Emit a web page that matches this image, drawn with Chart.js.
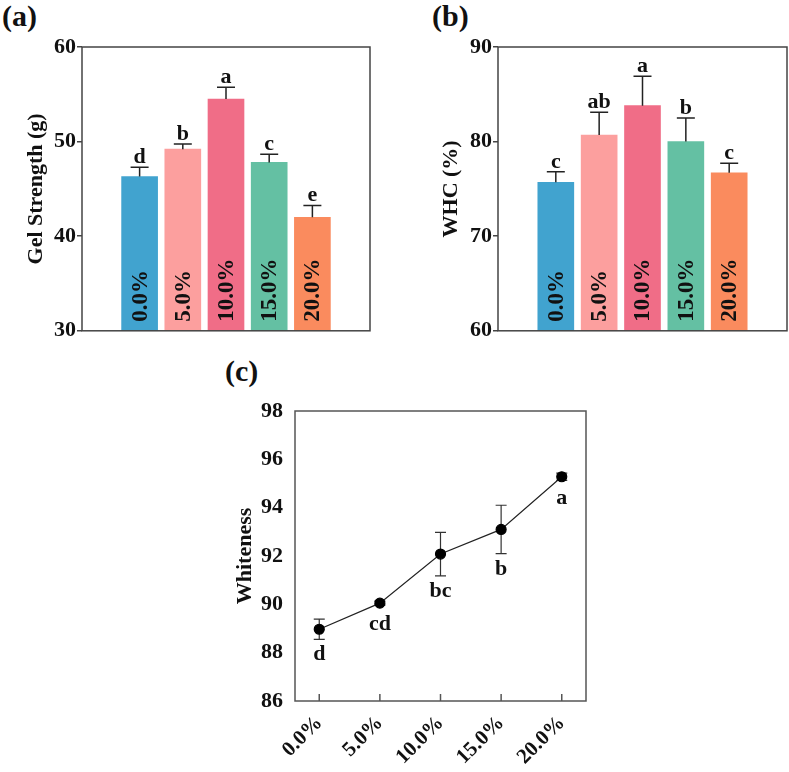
<!DOCTYPE html>
<html>
<head>
<meta charset="utf-8">
<script src="https://cdn.jsdelivr.net/npm/chart.js@4/dist/chart.umd.min.js"></script>
<style>
  body { margin: 0; background: #fff; }
  #page { position: relative; width: 789px; height: 772px; overflow: hidden; background: #fff; }
  canvas { position: absolute; }
  .tag { position: absolute; font: bold 30px "Liberation Serif", serif; line-height: 30px; color: #111; }
</style>
</head>
<body>
<div id="page">
  <div class="tag" style="left:2px;top:1px">(a)</div>
  <div class="tag" style="left:432px;top:1px">(b)</div>
  <div class="tag" style="left:225px;top:356px">(c)</div>
  <canvas id="gel" width="390" height="345" style="left:0;top:0"></canvas>
  <canvas id="whc" width="394" height="345" style="left:395px;top:0"></canvas>
  <canvas id="white" width="400" height="427" style="left:200px;top:345px"></canvas>
</div>
<script>
// data
const concentrations = ["0.0%", "5.0%", "10.0%", "15.0%", "20.0%"];

const gelStrength = [46.3, 49.2, 54.5, 47.8, 42.0];
const gelStrengthErr = [1.0, 0.55, 1.25, 0.85, 1.25];
const gelLetters = ["d", "b", "a", "c", "e"];
const gelTicks = [30, 40, 50, 60];

const whc = [75.7, 80.7, 83.8, 80.0, 76.7];
const whcErr = [1.1, 2.4, 3.1, 2.5, 1.0];
const whcLetters = ["c", "ab", "a", "b", "c"];
const whcTicks = [60, 70, 80, 90];

const whiteness = [88.97, 90.05, 92.08, 93.1, 95.28];
const whitenessErr = [0.42, 0.08, 0.9, 1.0, 0.15];
const whitenessLetters = ["d", "cd", "bc", "b", "a"];
const whitenessTicks = [86, 88, 90, 92, 94, 96, 98];

const barColors = ["#41a3cf", "#fc9f9e", "#f06d87", "#64c0a3", "#fa8b5e"];
const FONT = "Liberation Serif";
const bold = size => ({ family: FONT, size: size, weight: "bold" });

function barExtras(errs, letters) {
  return {
    id: "barExtras",
    afterDatasetsDraw(chart) {
      const ctx = chart.ctx, ys = chart.scales.y, a = chart.chartArea;
      const vals = chart.data.datasets[0].data;
      chart.getDatasetMeta(0).data.forEach((bar, i) => {
        const top = ys.getPixelForValue(vals[i].y + errs[i]);
        ctx.save();
        ctx.strokeStyle = "#222";
        ctx.lineWidth = 1.5;
        ctx.beginPath();
        ctx.moveTo(bar.x, bar.y);
        ctx.lineTo(bar.x, top);
        ctx.moveTo(bar.x - 9, top);
        ctx.lineTo(bar.x + 9, top);
        ctx.stroke();
        ctx.fillStyle = "#111";
        ctx.font = "bold 22px '" + FONT + "'";
        ctx.textAlign = "center";
        ctx.textBaseline = "alphabetic";
        ctx.fillText(letters[i], bar.x, top - 4);
        // concentration written up the bar
        ctx.font = "bold 23px '" + FONT + "'";
        ctx.translate(bar.x, a.bottom - 9);
        ctx.rotate(-Math.PI / 2);
        ctx.textAlign = "left";
        ctx.textBaseline = "middle";
        ctx.fillText(concentrations[i], 0, 1);
        ctx.restore();
      });
      ctx.save();
      ctx.strokeStyle = "#444";
      ctx.lineWidth = 1.5;
      ctx.strokeRect(a.left, a.top, a.right - a.left, a.bottom - a.top);
      ctx.restore();
    }
  };
}

function barChart(id, values, errs, letters, ticks, title, axisWidth, titlePad, padRight) {
  new Chart(document.getElementById(id), {
    type: "bar",
    data: {
      datasets: [{
        data: values.map((v, i) => ({ x: i, y: v })),
        backgroundColor: barColors,
        barThickness: 36
      }]
    },
    options: {
      responsive: false,
      animation: false,
      layout: { padding: { top: 47, right: padRight, bottom: 9, left: 0 } },
      plugins: { legend: { display: false }, tooltip: { enabled: false } },
      scales: {
        x: { type: "linear", display: false, min: -0.667, max: 4.667 },
        y: {
          min: ticks[0],
          max: ticks[ticks.length - 1],
          afterBuildTicks: s => { s.ticks = ticks.map(v => ({ value: v })); },
          afterFit: s => { s.width = axisWidth; },
          ticks: { font: bold(22), color: "#111", padding: 1 },
          grid: { drawOnChartArea: false, tickLength: 5, color: "#444", lineWidth: 1.5 },
          border: { display: false },
          title: { display: true, text: title, font: bold(22), color: "#111", padding: { top: titlePad, bottom: 0 } }
        }
      }
    },
    plugins: [barExtras(errs, letters)]
  });
}

barChart("gel", gelStrength, gelStrengthErr, gelLetters, gelTicks, "Gel Strength (g)", 82, 23, 20);
barChart("whc", whc, whcErr, whcLetters, whcTicks, "WHC (%)", 103, 43, 2);

// (c) whiteness line chart
const lineExtras = {
  id: "lineExtras",
  beforeDatasetsDraw(chart) {
    const ctx = chart.ctx, xs = chart.scales.x, ys = chart.scales.y;
    ctx.save();
    ctx.strokeStyle = "#333";
    ctx.lineWidth = 1.2;
    whiteness.forEach((v, i) => {
      const x = xs.getPixelForValue(i);
      const hi = ys.getPixelForValue(v + whitenessErr[i]);
      const lo = ys.getPixelForValue(v - whitenessErr[i]);
      ctx.beginPath();
      ctx.moveTo(x, hi); ctx.lineTo(x, lo);
      ctx.moveTo(x - 5.5, hi); ctx.lineTo(x + 5.5, hi);
      ctx.moveTo(x - 5.5, lo); ctx.lineTo(x + 5.5, lo);
      ctx.stroke();
    });
    ctx.restore();
  },
  afterDatasetsDraw(chart) {
    const ctx = chart.ctx, xs = chart.scales.x, ys = chart.scales.y, a = chart.chartArea;
    ctx.save();
    ctx.fillStyle = "#111";
    ctx.font = "bold 22px '" + FONT + "'";
    ctx.textAlign = "center";
    ctx.textBaseline = "alphabetic";
    whiteness.forEach((v, i) => {
      const x = xs.getPixelForValue(i);
      const lo = Math.max(ys.getPixelForValue(v - whitenessErr[i]), ys.getPixelForValue(v) + 6);
      ctx.fillText(whitenessLetters[i], x, lo + 21);
    });
    // inward tick marks on the x axis
    ctx.strokeStyle = "#555";
    ctx.lineWidth = 1.5;
    concentrations.forEach((_, i) => {
      const x = xs.getPixelForValue(i);
      ctx.beginPath();
      ctx.moveTo(x, a.bottom);
      ctx.lineTo(x, a.bottom - 7);
      ctx.stroke();
    });
    ctx.strokeRect(a.left, a.top, a.right - a.left, a.bottom - a.top);
    ctx.restore();
  }
};

new Chart(document.getElementById("white"), {
  type: "line",
  data: {
    datasets: [{
      data: whiteness.map((v, i) => ({ x: i, y: v })),
      borderColor: "#222",
      borderWidth: 1.2,
      pointRadius: 5,
      pointBackgroundColor: "#000",
      pointBorderColor: "#000",
      tension: 0
    }]
  },
  options: {
    responsive: false,
    animation: false,
    layout: { padding: { top: 66, right: 14, bottom: 0, left: 0 } },
    plugins: { legend: { display: false }, tooltip: { enabled: false } },
    scales: {
      x: {
        type: "linear",
        min: -0.4,
        max: 4.4,
        afterBuildTicks: s => { s.ticks = concentrations.map((_, i) => ({ value: i })); },
        afterFit: s => { s.height = 71; },
        ticks: {
          callback: v => concentrations[v],
          font: bold(21),
          color: "#111",
          minRotation: 45,
          maxRotation: 45,
          padding: 2
        },
        grid: { display: false },
        border: { display: false }
      },
      y: {
        min: whitenessTicks[0],
        max: whitenessTicks[whitenessTicks.length - 1],
        afterBuildTicks: s => { s.ticks = whitenessTicks.map(v => ({ value: v })); },
        afterFit: s => { s.width = 95; },
        ticks: { font: bold(22), color: "#111", padding: 4 },
        grid: { display: false },
        border: { display: false },
        title: { display: true, text: "Whiteness", font: bold(22), color: "#111", padding: { top: 32, bottom: 0 } }
      }
    }
  },
  plugins: [lineExtras]
});
</script>
</body>
</html>
